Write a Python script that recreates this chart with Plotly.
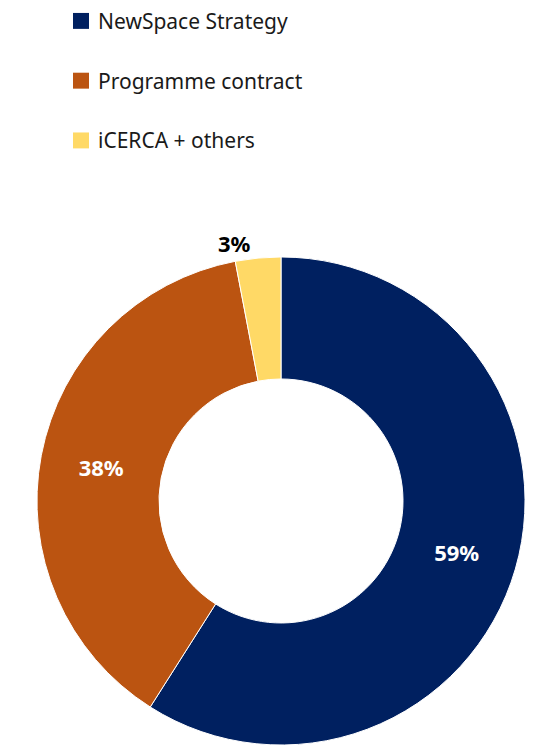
import plotly.graph_objects as go

# Funding sources and their shares (%)
labels = ["NewSpace Strategy", "Programme contract", "iCERCA + others"]
values = [59, 38, 3]
colors = ["#002060", "#BB5411", "#FFD966"]
text_positions = ["inside", "inside", "outside"]
text_colors = ["white", "white", "black"]

W, H = 538, 750
FONT = "Noto Sans"

fig = go.Figure(
    go.Pie(
        labels=labels,
        values=values,
        sort=False,
        direction="clockwise",
        rotation=0,
        hole=0.5,
        marker=dict(colors=colors, line=dict(color="white", width=1)),
        texttemplate="%{value}%",
        textposition=text_positions,
        textfont=dict(family=FONT, size=22, color=text_colors, weight="bold"),
        insidetextorientation="horizontal",
        showlegend=False,
        hoverinfo="label+percent",
        domain=dict(x=[36 / W, 526 / W], y=[2 / H, 492 / H]),
    )
)

# Legend: coloured squares with labels stacked at the top left
legend_y = [21, 81, 141]
shapes = []
annotations = []
for lab, col, yc in zip(labels, colors, legend_y):
    shapes.append(
        dict(
            type="rect", xref="paper", yref="paper",
            x0=73 / W, x1=89 / W,
            y0=1 - (yc + 8) / H, y1=1 - (yc - 8) / H,
            fillcolor=col, line=dict(width=0),
        )
    )
    annotations.append(
        dict(
            text=lab, xref="paper", yref="paper",
            x=96 / W, y=1 - yc / H, xanchor="left", yanchor="middle",
            showarrow=False, font=dict(family=FONT, size=21, color="#1a1a1a"),
        )
    )

fig.update_layout(
    width=W,
    height=H,
    margin=dict(l=0, r=0, t=0, b=0),
    paper_bgcolor="white",
    plot_bgcolor="white",
    shapes=shapes,
    annotations=annotations,
)

fig.write_html("out.html")
